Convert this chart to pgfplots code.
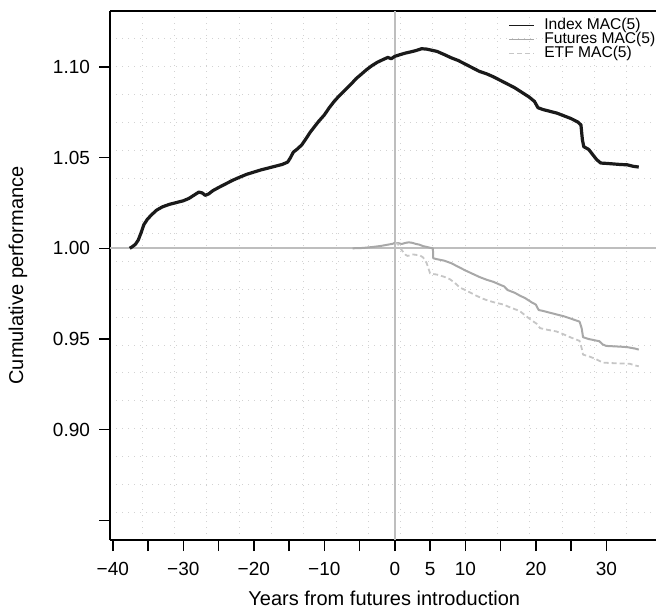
\documentclass[border=0pt]{standalone}
\usepackage{fontspec}
\setmainfont{Liberation Sans}
\usepackage{pgfplots}
\pgfplotsset{compat=1.18}
\usetikzlibrary{calc}
\definecolor{idx}{HTML}{1A1A1A}
\definecolor{fut}{HTML}{A8A8A8}
\definecolor{etf}{HTML}{C6C6C6}
\definecolor{refl}{HTML}{BEBEBE}
\definecolor{gridc}{HTML}{D2D2D2}
\begin{document}
\begin{tikzpicture}
\begin{axis}[
  scale only axis, width=274.2pt, height=264.5pt,
  xmin=-40.4, xmax=37.4, ymin=0.8392, ymax=1.1308,
  axis x line*=box, axis y line*=left,
  xtick pos=left, ytick pos=left,
  tick align=outside, major tick length=5.5pt,
  axis line style={line width=0.7pt, black},
  every tick/.style={line width=0.7pt, black},
  xtick={-40,-35,-30,-25,-20,-15,-10,-5,0,5,10,15,20,25,30},
  xticklabels={−40,,−30,,−20,,−10,,0,5,10,,20,,30},
  ytick={0.85,0.9,0.95,1,1.05,1.1},
  yticklabels={,0.90,0.95,1.00,1.05,1.10},
  minor xtick={-35.82,-31.24,-26.66,-22.08,-17.5,-12.92,-8.34,-3.76,0.82,5.4,9.98,14.56,19.14,23.72,28.3,32.88},
  minor ytick={0.8545,0.8699,0.8852,0.9006,0.9159,0.9313,0.9466,0.9620,0.9773,0.9927,1.0080,1.0234,1.0387,1.0541,1.0694,1.0848,1.1001,1.1155},
  minor tick length=0pt,
  xminorgrids, yminorgrids,
  minor grid style={gridc, line width=0.5pt, dash pattern=on 0.5pt off 2.5pt},
  /pgf/number format/assume math mode=true,
  tick label style={font=\fontsize{9.5}{11}\selectfont},
  xticklabel style={anchor=center, yshift=-9pt},
  yticklabel style={anchor=east, xshift=-1pt},
  label style={font=\fontsize{9.5}{11}\selectfont},
  xlabel={Years from futures introduction},
  ylabel={Cumulative performance},
  every axis x label/.style={at={(axis description cs:0.5,0)}, yshift=-29pt, anchor=center},
  every axis y label/.style={at={(axis description cs:0,0.5)}, xshift=-46pt, rotate=90, anchor=center},
  legend style={at={(1,1)}, anchor=north east, xshift=-1pt, yshift=-3pt, draw=none, fill=none,
    font=\fontsize{7.8}{8}\selectfont, row sep=-1pt, inner sep=0pt,
    nodes={inner sep=0.4pt}, cells={anchor=west},
    /tikz/every odd column/.append style={column sep=4.5pt}},
  legend image code/.code={\draw[#1, line width=0.5pt] (0pt,0pt) -- (12.5pt,0pt);},
  line join=round,
]
\addplot[refl, line width=1pt, forget plot] coordinates {(-40.4,1) (37.4,1)};
\addplot[refl, line width=1pt, forget plot] coordinates {(0,0.8392) (0,1.1308)};
\addplot[idx, line width=1.6pt] coordinates {
(-37.6,1.0000) (-37.2,1.0010) (-36.8,1.0022) (-36.4,1.0045) (-36.0,1.0085) (-35.6,1.0130)
(-35.1,1.0160) (-34.5,1.0185) (-33.8,1.0210) (-33.0,1.0228) (-32.0,1.0242) (-31.0,1.0252)
(-30.0,1.0262) (-29.2,1.0275) (-28.4,1.0295) (-27.8,1.0310) (-27.3,1.0305) (-26.9,1.0292)
(-26.4,1.0300) (-25.8,1.0318) (-25.0,1.0335) (-24.0,1.0355) (-23.0,1.0375) (-22.0,1.0392)
(-21.0,1.0408) (-20.0,1.0420) (-19.0,1.0432) (-18.0,1.0442) (-17.0,1.0452) (-16.0,1.0462)
(-15.2,1.0475) (-14.8,1.0500) (-14.4,1.0530) (-13.9,1.0545) (-13.2,1.0570) (-12.5,1.0610)
(-12.0,1.0640) (-11.4,1.0670) (-10.8,1.0700) (-10.0,1.0735) (-9.3,1.0775) (-8.6,1.0810)
(-7.9,1.0840) (-7.0,1.0875) (-6.2,1.0905) (-5.5,1.0935) (-4.8,1.0958) (-4.0,1.0985)
(-3.2,1.1008) (-2.5,1.1025) (-1.8,1.1038) (-1.0,1.1052) (-0.5,1.1045) (0.0,1.1058)
(0.8,1.1068) (1.5,1.1076) (2.3,1.1083) (3.0,1.1090) (3.8,1.1100) (4.5,1.1098)
(5.2,1.1092) (6.0,1.1085) (7.0,1.1068) (8.0,1.1050) (9.0,1.1035) (10.0,1.1015)
(11.0,1.0995) (12.0,1.0975) (13.0,1.0962) (14.0,1.0945) (15.0,1.0925) (16.0,1.0905)
(17.0,1.0885) (18.0,1.0860) (19.0,1.0835) (19.8,1.0810) (20.3,1.0775) (21.0,1.0765)
(22.0,1.0755) (23.0,1.0745) (24.0,1.0730) (25.0,1.0715) (26.0,1.0695) (26.4,1.0680)
(26.6,1.0600) (26.8,1.0560) (27.5,1.0545) (28.0,1.0520) (28.6,1.0490) (29.2,1.0470)
(30.0,1.0468) (31.0,1.0465) (32.0,1.0462) (33.0,1.0460) (33.8,1.0452) (34.6,1.0448)
};
\addlegendentry{Index MAC(5)}
\addplot[fut, line width=1pt] coordinates {
(-6.0,1.0000) (-4.5,1.0002) (-3.0,1.0008) (-2.0,1.0013) (-1.0,1.0020) (-0.3,1.0025)
(0.0,1.0030) (0.5,1.0028) (1.0,1.0024) (1.5,1.0030) (2.0,1.0033) (2.5,1.0030)
(3.0,1.0024) (3.5,1.0020) (4.0,1.0012) (4.5,1.0008) (5.0,1.0003) (5.4,1.0000)
(5.45,0.9945) (6.0,0.9940) (7.0,0.9932) (8.0,0.9918) (9.0,0.9898) (10.0,0.9878)
(11.0,0.9860) (12.0,0.9842) (13.0,0.9827) (14.0,0.9815) (15.0,0.9798) (15.5,0.9790)
(16.0,0.9770) (17.0,0.9755) (17.7,0.9740) (18.5,0.9725) (19.5,0.9700) (20.0,0.9690)
(20.4,0.9660) (21.0,0.9655) (22.0,0.9645) (23.0,0.9635) (24.0,0.9625) (25.0,0.9612)
(26.2,0.9596) (26.5,0.9560) (26.7,0.9510) (27.5,0.9500) (28.5,0.9492) (29.0,0.9488)
(29.5,0.9470) (30.0,0.9462) (31.0,0.9460) (32.0,0.9458) (33.0,0.9455) (34.0,0.9448)
(34.6,0.9442)
};
\addlegendentry{Futures MAC(5)}
\addplot[etf, line width=0.9pt, dash pattern=on 2.5pt off 1.5pt] coordinates {
(0.0,1.0030) (0.4,1.0026) (0.8,1.0000) (1.1,0.9984) (1.5,0.9965) (1.8,0.9958)
(2.2,0.9962) (2.6,0.9966) (3.0,0.9964) (3.5,0.9962) (4.0,0.9950) (4.5,0.9920)
(5.0,0.9862) (5.5,0.9858) (6.0,0.9855) (7.0,0.9843) (7.8,0.9830) (8.5,0.9810)
(9.2,0.9784) (10.0,0.9770) (10.6,0.9758) (11.5,0.9740) (12.3,0.9725) (13.0,0.9715)
(14.0,0.9703) (15.4,0.9690) (16.5,0.9672) (17.7,0.9655) (18.5,0.9630) (19.5,0.9600)
(20.1,0.9585) (20.6,0.9560) (21.5,0.9552) (22.9,0.9542) (24.0,0.9525) (25.0,0.9508)
(26.2,0.9490) (26.5,0.9450) (26.7,0.9414) (27.5,0.9405) (28.5,0.9390) (29.5,0.9370)
(30.5,0.9368) (31.5,0.9366) (33.3,0.9364) (34.0,0.9355) (34.6,0.9350)
};
\addlegendentry{ETF MAC(5)}
\end{axis}
\pgfresetboundingbox
\path[use as bounding box] ($(current axis.south west)+(-55pt,-36.5pt)$) rectangle ($(current axis.north east)+(-1.25pt,5.5pt)$);
\end{tikzpicture}
\end{document}
